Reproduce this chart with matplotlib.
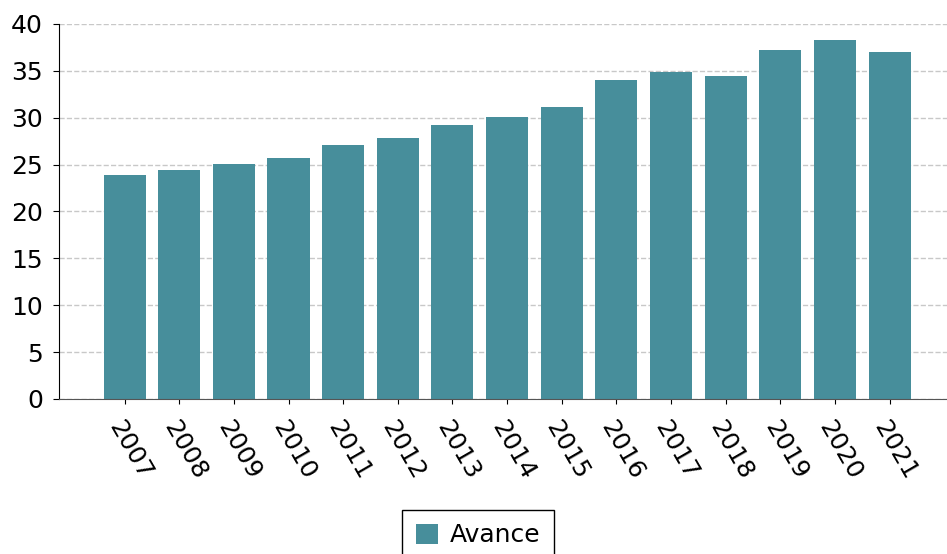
import matplotlib
matplotlib.use("Agg")
import matplotlib.pyplot as plt

# Data
years = ['2007', '2008', '2009', '2010', '2011', '2012', '2013', '2014',
         '2015', '2016', '2017', '2018', '2019', '2020', '2021']
avance = [23.9, 24.4, 25.1, 25.7, 27.1, 27.8, 29.2, 30.1,
          31.1, 34.0, 34.9, 34.5, 37.2, 38.3, 37.0]

fig = plt.figure(figsize=(9.47, 5.54), dpi=100)
ax = fig.add_axes([0.0623, 0.2798, 0.9377, 0.6769])

ax.bar(range(len(years)), avance, width=0.77, color='#478e9b', label='Avance', zorder=2)

# Axis limits and ticks
ax.set_xlim(-1.2, 15.05)
ax.set_ylim(0, 40)
ax.set_yticks(range(0, 41, 5))
ax.set_xticks(range(len(years)))
ax.set_xticklabels(years, rotation=-60, ha='left', rotation_mode='anchor')
ax.tick_params(axis='both', labelsize=18)
ax.tick_params(axis='x', pad=9)
ax.tick_params(axis='y', length=4.5, pad=7)

# Grid and spines
ax.grid(axis='y', linestyle='--', color='#c8c8c8', linewidth=1, zorder=0)
ax.spines['top'].set_visible(False)
ax.spines['right'].set_visible(False)
ax.spines['bottom'].set_color('#555555')

# Legend below the plot (its lower edge runs off the figure, as in the original)
ax.legend(loc='upper center', bbox_to_anchor=(0.472, -0.295), fontsize=18,
          fancybox=False, edgecolor='black', framealpha=1,
          handlelength=0.88, handleheight=0.88, handletextpad=0.5,
          borderpad=0.55, borderaxespad=0)

fig.savefig('out.png', dpi=100)
